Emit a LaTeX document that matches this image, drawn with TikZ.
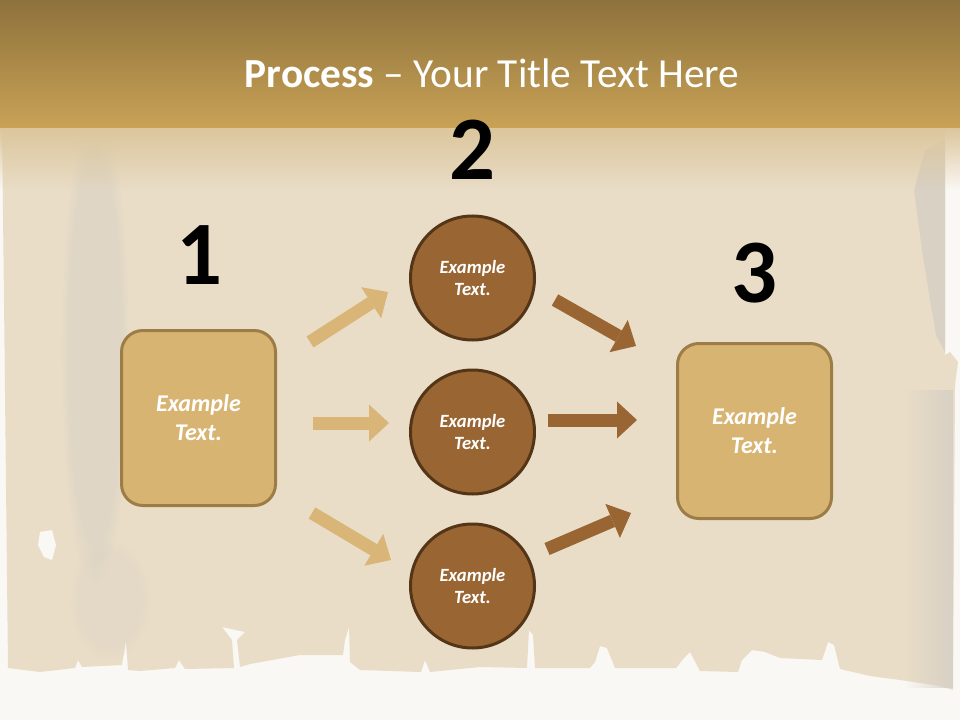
\documentclass[tikz,border=0pt]{standalone}
\usepackage{fontspec}
\setmainfont{Carlito}
\usetikzlibrary{arrows.meta,fadings}
\definecolor{bgwhite}{HTML}{FAF8F4}
\definecolor{paper}{HTML}{E9DDC7}
\definecolor{papergrey}{HTML}{D3CDC4}
\definecolor{headtop}{HTML}{8D723C}
\definecolor{headbot}{HTML}{C9A256}
\definecolor{fadetop}{HTML}{DCC69C}
\definecolor{boxfill}{HTML}{D8B472}
\definecolor{boxline}{HTML}{9C7D47}
\definecolor{circfill}{HTML}{996633}
\definecolor{circline}{HTML}{553517}
\definecolor{lightarrow}{HTML}{D9B677}
\definecolor{darkarrow}{HTML}{996633}
\begin{document}
\begin{tikzpicture}[x=0.75pt,y=-0.75pt,
  stepboxsq/.style={draw=boxline, line width=2.25pt, fill=boxfill, rounded corners=16pt,
    minimum width=115.5pt, minimum height=131.25pt, inner sep=0pt, align=center, text=white,
    font=\fontsize{18}{21.6}\selectfont\bfseries\itshape},
  stepcirc/.style={circle, draw=circline, line width=2.25pt, fill=circfill, minimum size=93pt,
    inner sep=0pt, align=center, text=white, font=\fontsize{14}{17}\selectfont\bfseries\itshape},
  stepnum/.style={anchor=base, inner sep=0pt, text=black, font=\fontsize{68}{80}\selectfont\bfseries},
  blockarrow/.style={line width=9.75pt, -{Triangle[length=15pt,width=27.75pt,line width=0pt]}},
  lightarr/.style={blockarrow, draw=lightarrow},
  darkarr/.style={blockarrow, draw=darkarrow}]
\useasboundingbox (0,0) rectangle (960,720);
% background
\fill[bgwhite] (0,0) rectangle (960,720);
% paper
\fill[paper] (0,128) -- (945,128) -- (945,355) -- (950,352) -- (958,362) -- (955,385) -- (953,690)
 -- (940,686) -- (900,680) -- (870,676) -- (840,669) -- (834,645) -- (828,642) -- (822,660)
 -- (780,658) -- (765,652) -- (752,650) -- (742,660) -- (738,672) -- (700,671) -- (690,652)
 -- (684,658) -- (676,668) -- (615,668) -- (607,648) -- (600,646) -- (595,662) -- (590,668)
 -- (535,668) -- (533,635) -- (529,630) -- (527,668) -- (480,667) -- (430,672) -- (425,660)
 -- (421,672) -- (360,670) -- (350,662) -- (349,627) -- (345,640) -- (343,655) -- (300,655)
 -- (250,664) -- (240,667) -- (237,640) -- (245,632) -- (222,627) -- (232,640) -- (234,668)
 -- (185,669) -- (179,660) -- (175,668) -- (140,671) -- (128,670) -- (126,640) -- (122,665)
 -- (82,667) -- (78,660) -- (75,668) -- (40,672) -- (8,668) -- (4,300) -- (2,128) -- cycle;
% paper shading
\fill[papergrey, fill opacity=0.4, path fading=circle with fuzzy edge 20 percent]
  (95,350) ellipse [x radius=34, y radius=240];
\fill[papergrey, fill opacity=0.2, path fading=circle with fuzzy edge 20 percent]
  (110,600) ellipse [x radius=40, y radius=60];
\fill[papergrey, fill opacity=0.7] (945,140) -- (925,150) -- (914,190) -- (922,250) -- (930,300) -- (936,335) -- (945,352) -- cycle;
\fill[papergrey, fill opacity=0.8, path fading=west] (905,390) rectangle (953,688);
\fill[bgwhite] (40,532) -- (52,530) -- (56,545) -- (52,560) -- (44,557) -- (38,545) -- cycle;
% header
\shade[top color=headtop, bottom color=headbot] (0,0) rectangle (960,128);
\fill[fadetop, path fading=south] (0,128) rectangle (960,190);
\node[anchor=base, text=white, inner sep=0pt, font=\fontsize{31}{37}\selectfont] (title) at (492,88)
  {\textbf{Process} – Your Title Text Here};
% numbers
\node[stepnum] (n1) at (199,285) {1};
\node[stepnum] (n2) at (472,180) {2};
\node[stepnum] (n3) at (754,302) {3};
% boxes and circles
\node[stepboxsq] (b1) at (198.5,418) {Example\\Text.};
\node[stepboxsq] (b3) at (754.5,431) {Example\\Text.};
\node[stepcirc] (c1) at (472.5,278) {Example\\Text.};
\node[stepcirc] (c2) at (472.5,432) {Example\\Text.};
\node[stepcirc] (c3) at (472.5,586) {Example\\Text.};
% arrows
\coordinate (l1s) at (310,342); \coordinate (l1e) at (388,292);
\coordinate (l2s) at (313,423); \coordinate (l2e) at (389,423);
\coordinate (l3s) at (312,513); \coordinate (l3e) at (391,560);
\coordinate (d1s) at (555,300); \coordinate (d1e) at (636,346);
\coordinate (d2s) at (548,420); \coordinate (d2e) at (637,420);
\coordinate (d3s) at (547,549); \coordinate (d3e) at (631,513);
\draw[lightarr] (l1s) -- (l1e);
\draw[lightarr] (l2s) -- (l2e);
\draw[lightarr] (l3s) -- (l3e);
\draw[darkarr] (d1s) -- (d1e);
\draw[darkarr] (d2s) -- (d2e);
\draw[darkarr] (d3s) -- (d3e);
\end{tikzpicture}
\end{document}
